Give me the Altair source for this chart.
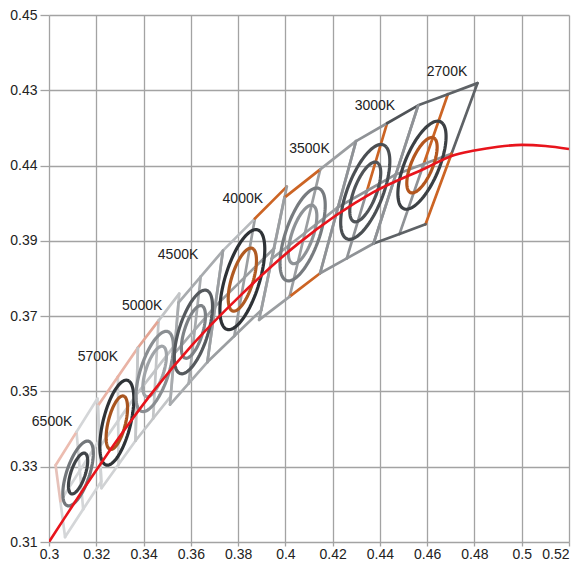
import altair as alt
import pandas as pd
import numpy as np

# ---------------- data ----------------
cct = ["2700K", "3000K", "3500K", "4000K", "4500K", "5000K", "5700K", "6500K"]

# quadrangle corners (CIE 1931 x, y)
tl_x = [0.4562, 0.4299, 0.3996, 0.3736, 0.3548, 0.3376, 0.3207, 0.3028]
tl_y = [0.4260, 0.4165, 0.4015, 0.3874, 0.3736, 0.3616, 0.3462, 0.3304]
tr_x = [0.4813, 0.4562, 0.4299, 0.4006, 0.3736, 0.3551, 0.3376, 0.3205]
tr_y = [0.4319, 0.4260, 0.4165, 0.4044, 0.3874, 0.3760, 0.3616, 0.3481]
br_x = [0.4593, 0.4373, 0.4147, 0.3898, 0.3670, 0.3515, 0.3366, 0.3221]
br_y = [0.3944, 0.3893, 0.3814, 0.3716, 0.3578, 0.3487, 0.3369, 0.3261]
bl_x = [0.4373, 0.4147, 0.3889, 0.3670, 0.3512, 0.3366, 0.3222, 0.3068]
bl_y = [0.3893, 0.3814, 0.3690, 0.3578, 0.3465, 0.3369, 0.3243, 0.3113]

# ellipse centres and outer-ellipse parameters (semi axes, tilt in degrees)
cx = [0.4578, 0.4338, 0.4073, 0.3818, 0.3611, 0.3447, 0.3287, 0.3123]
cy = [0.4101, 0.4030, 0.3917, 0.3797, 0.3658, 0.3553, 0.3417, 0.3282]
ell_a = [0.01413, 0.01488, 0.01420, 0.01488, 0.01250, 0.01210, 0.01219, 0.00980]
ell_b = [0.00642, 0.00676, 0.00650, 0.00676, 0.00570, 0.00550, 0.00554, 0.00445]
ell_theta = [51.0, 53.4, 56.2, 59.8, 59.0, 58.0, 65.0, 57.6]
inner_ratio = 0.63

# CCT label anchor points (data units)
label_x = [0.4684, 0.4379, 0.4102, 0.3820, 0.3546, 0.3394, 0.3207, 0.3013]
label_y = [0.4348, 0.4258, 0.4145, 0.4011, 0.3862, 0.3727, 0.3591, 0.3418]

# Planckian locus (red curve)
locus_x = [0.3000, 0.3064, 0.3135, 0.3221, 0.3324, 0.3451, 0.3608, 0.3805,
           0.4053, 0.4369, 0.4599, 0.4700, 0.4800, 0.4900, 0.5000, 0.5100, 0.5200]
locus_y = [0.3100, 0.3162, 0.3230, 0.3310, 0.3402, 0.3508, 0.3625, 0.3752,
           0.3892, 0.4028, 0.4095, 0.4125, 0.4140, 0.4150, 0.4155, 0.4152, 0.4144]

x_ticks = [0.30, 0.32, 0.34, 0.36, 0.38, 0.40, 0.42, 0.44, 0.46, 0.48, 0.50, 0.52]
y_ticks = [0.31, 0.33, 0.35, 0.37, 0.39, 0.41, 0.43, 0.45]

# ---------------- styles ----------------
outer_col = ["#3c4044", "#4b4f53", "#777b7f", "#2e3236", "#55595d", "#8a8e92", "#2f3337", "#73777b"]
inner_col = ["#b4561e", "#505458", "#8e9296", "#b05a22", "#7e8286", "#a0a4a8", "#a8541e", "#3f4347"]
edge_base = ["#5e6266", "#8f9296", "#9b9ea1", "#9b9ea1", "#a8abae", "#c3c5c7", "#d0d2d4", "#d4d6d8"]
ORANGE = "#cc6424"
accent = {
    ("2700K", "left_u"): "#8f9296", ("2700K", "left_d"): "#8f9296",
    ("2700K", "right_d"): ORANGE, ("2700K", "midv_u"): ORANGE,
    ("2700K", "midv_d"): "#8f9296", ("2700K", "midh_l"): "#8f9296", ("2700K", "midh_r"): "#8f9296",
    ("3000K", "top_r"): "#4f5357", ("3000K", "midv_u"): ORANGE,
    ("3500K", "top_l"): ORANGE, ("3500K", "bot_r"): ORANGE,
    ("4000K", "top_r"): ORANGE, ("4000K", "top_l"): "#b8bbbe",
    ("5000K", "top_l"): "#e3a594",
    ("5700K", "top_l"): "#e9b3a5", ("5700K", "top_r"): "#e9b3a5",
    ("6500K", "top_l"): "#ecbcb0", ("6500K", "left_u"): "#e6c2ba",
}

# ---------------- build tables ----------------
seg_rows = []
for i in reversed(range(len(cct))):
    name = cct[i]
    TL = (tl_x[i], tl_y[i]); TR = (tr_x[i], tr_y[i])
    BR = (br_x[i], br_y[i]); BL = (bl_x[i], bl_y[i])
    mid = lambda p, q: ((p[0] + q[0]) / 2, (p[1] + q[1]) / 2)
    MT, MB, ML, MR = mid(TL, TR), mid(BL, BR), mid(TL, BL), mid(TR, BR)
    C = ((TL[0] + TR[0] + BR[0] + BL[0]) / 4, (TL[1] + TR[1] + BR[1] + BL[1]) / 4)
    segs = [
        ("midv_u", MT, C), ("midv_d", C, MB), ("midh_l", ML, C), ("midh_r", C, MR),
        ("top_l", TL, MT), ("top_r", MT, TR), ("right_u", TR, MR), ("right_d", MR, BR),
        ("bot_r", BR, MB), ("bot_l", MB, BL), ("left_d", BL, ML), ("left_u", ML, TL),
    ]
    for sname, p, q in segs:
        seg_rows.append(dict(cct=name, seg=sname, x=p[0], y=p[1], x2=q[0], y2=q[1],
                             c=accent.get((name, sname), edge_base[i])))
seg_df = pd.DataFrame(seg_rows)

t = np.linspace(0, 2 * np.pi, 91)
ell_rows = []
for i in reversed(range(len(cct))):
    th = np.radians(ell_theta[i])
    for lvl, s, col in (("outer", 1.0, outer_col[i]), ("inner", inner_ratio, inner_col[i])):
        a = ell_a[i] * s
        b = ell_b[i] * s
        for k, tt in enumerate(t):
            ell_rows.append(dict(
                id=f"{cct[i]}-{lvl}", k=k,
                x=cx[i] + a * np.cos(th) * np.cos(tt) - b * np.sin(th) * np.sin(tt),
                y=cy[i] + a * np.sin(th) * np.cos(tt) + b * np.cos(th) * np.sin(tt),
                c=col))
ell_df = pd.DataFrame(ell_rows)

locus_df = pd.DataFrame({"x": locus_x, "y": locus_y})
label_df = pd.DataFrame({"x": label_x, "y": label_y, "t": cct})

# ---------------- encodings ----------------
xscale = alt.Scale(domain=[0.30, 0.52], nice=False, zero=False)
yscale = alt.Scale(domain=[0.31, 0.45], nice=False, zero=False)
xaxis = alt.Axis(values=x_ticks, labelExpr="format(datum.value, '.2~f')", title=None,
                 tickSize=4, labelPadding=1,
                 labelAlign=alt.ExprRef("datum.value > 0.515 ? 'right' : 'center'"))
yaxis = alt.Axis(values=y_ticks, title=None, tickSize=9, labelPadding=3,
                 labelExpr="abs(datum.value - 0.41) < 0.001 ? '0.44' : format(datum.value, '.2f')")


def X(f="x"):
    return alt.X(f"{f}:Q", scale=xscale, axis=xaxis)


def Y(f="y"):
    return alt.Y(f"{f}:Q", scale=yscale, axis=yaxis)


segs = alt.Chart(seg_df).mark_rule(strokeWidth=2.7, strokeCap="round").encode(
    x=X(), y=Y(), x2="x2:Q", y2="y2:Q", color=alt.Color("c:N", scale=None))

ells = alt.Chart(ell_df).mark_line(strokeWidth=3.2, clip=True).encode(
    x=X(), y=Y(), detail="id:N", order="k:Q", color=alt.Color("c:N", scale=None))

locus = alt.Chart(locus_df).mark_line(color="#e8141c", strokeWidth=2.6, interpolate="monotone",
                                      clip=True).encode(x=X(), y=Y(), order="x:Q")

labels = alt.Chart(label_df).mark_text(font="Liberation Sans", fontSize=14, color="#222222",
                                       align="center", baseline="middle").encode(
    x=X(), y=Y(), text="t:N")

chart = alt.layer(segs, ells, locus, labels).properties(
    width=520, height=527,
    autosize=alt.AutoSizeParams(type="none"),
    padding={"left": 41, "top": 7, "right": 7, "bottom": 21},
).configure_view(stroke=None).configure_axis(
    domain=False, grid=True, gridColor="#a3a3a3", gridWidth=1.3,
    tickColor="#a3a3a3", tickWidth=1.3,
    labelFont="Liberation Sans", labelFontSize=14, labelColor="#222222",
)

chart.save("out.html", embed_options={"renderer": "svg", "actions": False})
